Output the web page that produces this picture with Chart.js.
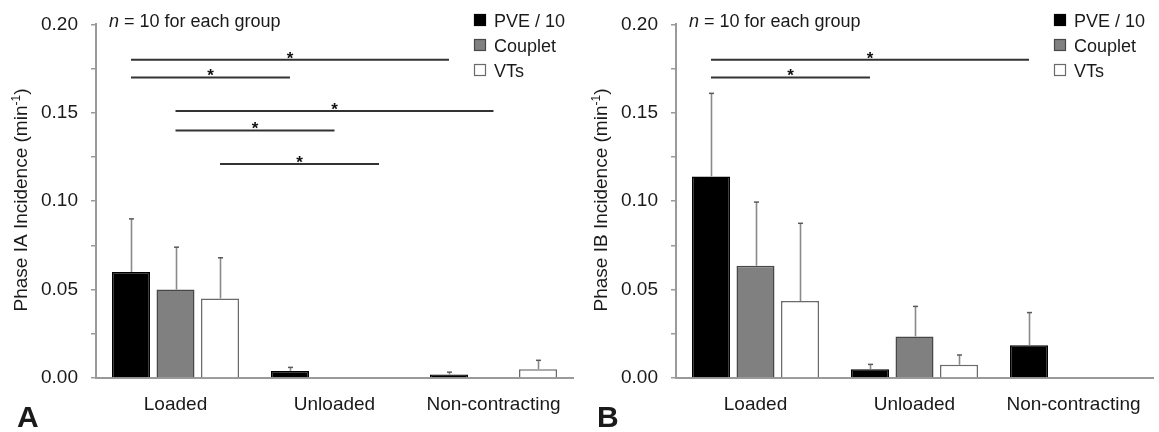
<!DOCTYPE html>
<html>
<head>
<meta charset="utf-8">
<title>Phase I incidence</title>
<script src="https://cdn.jsdelivr.net/npm/chart.js@4.4.1/dist/chart.umd.min.js"></script>
<style>
  html, body { margin: 0; padding: 0; background: #fff; }
  body { width: 1159px; height: 432px; position: relative; overflow: hidden; }
  canvas { position: absolute; top: 0; }
  #panelA { left: 0; }
  #panelB { left: 580px; }
</style>
</head>
<body>
<canvas id="panelA" width="580" height="432"></canvas>
<canvas id="panelB" width="579" height="432"></canvas>
<script>
/* ---------- data ---------- */
const categories = ["Loaded", "Unloaded", "Non-contracting"];
const seriesNames = ["PVE / 10", "Couplet", "VTs"];
const yTickLabels = [0, 0.05, 0.10, 0.15, 0.20];

// panel A : phase IA
const pveA       = [0.060, 0.004, 0.002];
const coupletA   = [0.050, 0, 0];
const vtA        = [0.045, 0, 0.005];
const pveErrA    = [0.030, 0.002, 0.0013];
const coupletErrA= [0.024, 0, 0];
const vtErrA     = [0.023, 0, 0.005];
// [fromCategory, fromSeries, toCategory, toSeries, level]
const sigA = [
  [0, 0, 2, 0, 0.180],
  [0, 0, 1, 0, 0.170],
  [0, 1, 2, 1, 0.151],
  [0, 1, 1, 1, 0.140],
  [0, 2, 1, 2, 0.121]
];

// panel B : phase IB
const pveB       = [0.114, 0.005, 0.0185];
const coupletB   = [0.0635, 0.0235, 0];
const vtB        = [0.0435, 0.0075, 0];
const pveErrB    = [0.047, 0.0027, 0.0185];
const coupletErrB= [0.036, 0.017, 0];
const vtErrB     = [0.044, 0.0055, 0];
const sigB = [
  [0, 0, 2, 0, 0.180],
  [0, 0, 1, 0, 0.170]
];

/* ---------- style ---------- */
const FONT = "'Liberation Sans', Arial, sans-serif";
const TEXT = "#1a1a1a";
const AXIS = "#9a9a9a";
const fills   = ["#000000", "#808080", "#ffffff"];
const borders = ["#000000", "#474747", "#6a6a6a"];

function isMajor(v) {
  return yTickLabels.some(t => Math.abs(t - v) < 1e-6);
}

function makePanel(canvasId, p) {
  const decor = {
    id: "decor",
    afterDatasetsDraw(chart) {
      const ctx = chart.ctx;
      const ys = chart.scales.y;

      // error bars (upper half only)
      p.errors.forEach((errs, ds) => {
        const meta = chart.getDatasetMeta(ds);
        errs.forEach((e, i) => {
          if (!e) return;
          const v = chart.data.datasets[ds].data[i];
          const x = Math.round(meta.data[i].x) + 0.5;
          const y0 = ys.getPixelForValue(v);
          const y1 = ys.getPixelForValue(v + e);
          ctx.save();
          ctx.strokeStyle = "#8a8a8a";
          ctx.lineWidth = 1.6;
          ctx.beginPath(); ctx.moveTo(x, y0); ctx.lineTo(x, y1); ctx.stroke();
          ctx.strokeStyle = "#5a5a5a";
          ctx.lineWidth = 1.5;
          ctx.beginPath(); ctx.moveTo(x - 2.5, y1); ctx.lineTo(x + 2.5, y1); ctx.stroke();
          ctx.restore();
        });
      });

      // significance brackets
      p.sig.forEach(([c0, d0, c1, d1, level]) => {
        const x0 = chart.getDatasetMeta(d0).data[c0].x;
        const x1 = chart.getDatasetMeta(d1).data[c1].x;
        const yy = ys.getPixelForValue(level);
        ctx.save();
        ctx.strokeStyle = "#333";
        ctx.lineWidth = 2;
        ctx.beginPath(); ctx.moveTo(x0, yy); ctx.lineTo(x1, yy); ctx.stroke();
        ctx.fillStyle = "#111";
        ctx.font = "bold 17px " + FONT;
        ctx.textAlign = "center";
        ctx.textBaseline = "alphabetic";
        ctx.fillText("*", (x0 + x1) / 2, yy + 4);
        ctx.restore();
      });
    },
    afterDraw(chart) {
      const ctx = chart.ctx;
      ctx.save();
      ctx.fillStyle = TEXT;
      ctx.textBaseline = "alphabetic";

      // group size note
      ctx.textAlign = "left";
      ctx.font = "italic 18px " + FONT;
      ctx.fillText("n", 109, 27);
      const nw = ctx.measureText("n").width;
      ctx.font = "18px " + FONT;
      ctx.fillText(" = 10 for each group", 109 + nw, 27);

      // legend
      chart.data.datasets.forEach((ds, i) => {
        const by = 14 + i * 25;
        ctx.fillStyle = ds.backgroundColor;
        ctx.fillRect(474, by, 12, 12);
        ctx.strokeStyle = ds.borderColor;
        ctx.lineWidth = 1.2;
        ctx.strokeRect(474.5, by + 0.5, 11, 11);
        ctx.fillStyle = TEXT;
        ctx.font = "18px " + FONT;
        ctx.fillText(ds.label, 494, by + 13);
      });

      // rotated y title with superscript unit
      ctx.save();
      ctx.translate(27, 200);
      ctx.rotate(-Math.PI / 2);
      const main = p.yTitle + " (min";
      ctx.font = "19px " + FONT;
      const w1 = ctx.measureText(main).width;
      ctx.font = "12px " + FONT;
      const w2 = ctx.measureText("-1").width;
      ctx.font = "19px " + FONT;
      const w3 = ctx.measureText(")").width;
      let x = -(w1 + w2 + w3) / 2;
      ctx.fillText(main, x, 0); x += w1;
      ctx.font = "12px " + FONT;
      ctx.fillText("-1", x, -7); x += w2;
      ctx.font = "19px " + FONT;
      ctx.fillText(")", x, 0);
      ctx.restore();

      // panel letter
      ctx.font = "bold 30px " + FONT;
      ctx.fillText(p.letter, 17, 427);
      ctx.restore();
    }
  };

  return new Chart(document.getElementById(canvasId), {
    type: "bar",
    data: {
      labels: categories,
      datasets: p.values.map((vals, i) => ({
        label: seriesNames[i],
        data: vals,
        backgroundColor: fills[i],
        borderColor: borders[i],
        borderWidth: ctx => (ctx.raw ? 1.5 : 0),
        categoryPercentage: 0.84,
        barPercentage: 0.854
      }))
    },
    options: {
      responsive: false,
      animation: false,
      devicePixelRatio: 1,
      layout: { padding: { top: 17, right: p.padRight, left: 0, bottom: 0 } },
      plugins: { legend: { display: false }, tooltip: { enabled: false } },
      scales: {
        x: {
          grid: { display: false },
          border: { color: AXIS, width: 2 },
          ticks: { color: TEXT, font: { family: FONT, size: 19 }, padding: 7 },
          afterFit(s) { s.height = 54; }
        },
        y: {
          min: 0,
          max: 0.2,
          grid: { drawOnChartArea: false, drawTicks: true, tickLength: 5, color: AXIS, lineWidth: 1.5 },
          border: { color: AXIS, width: 2 },
          ticks: {
            stepSize: 0.025,
            autoSkip: false,
            padding: 13,
            color: TEXT,
            font: { family: FONT, size: 19 },
            callback: v => (isMajor(v) ? v.toFixed(2) : "")
          },
          afterFit(s) { s.width = 96; }
        }
      }
    },
    plugins: [decor]
  });
}

makePanel("panelA", {
  letter: "A",
  yTitle: "Phase IA Incidence",
  padRight: 7,
  values: [pveA, coupletA, vtA],
  errors: [pveErrA, coupletErrA, vtErrA],
  sig: sigA
});

makePanel("panelB", {
  letter: "B",
  yTitle: "Phase IB Incidence",
  padRight: 6,
  values: [pveB, coupletB, vtB],
  errors: [pveErrB, coupletErrB, vtErrB],
  sig: sigB
});
</script>
</body>
</html>
